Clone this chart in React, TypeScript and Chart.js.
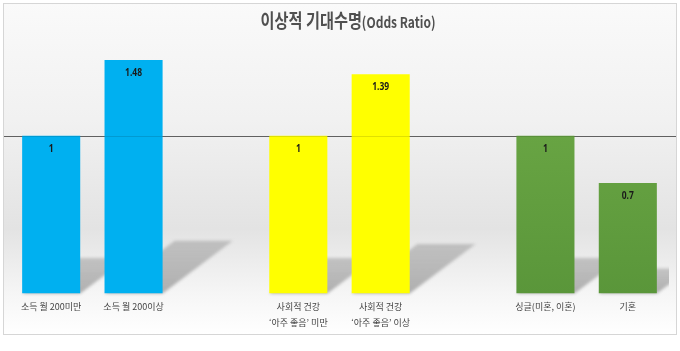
import React, { useEffect, useRef } from "react";
import { Chart, registerables } from "chart.js";

Chart.register(...registerables);

const titleMain = "이상적 기대수명";
const titleSub = "(Odds Ratio)";
const categories: (string | string[])[] = [
  ["소득 월 200미만"],
  ["소득 월 200이상"],
  "",
  ["사회적 건강", "‘아주 좋음’ 미만"],
  ["사회적 건강", "‘아주 좋음’ 이상"],
  "",
  ["싱글(미혼, 이혼)"],
  ["기혼"],
];
const oddsValues: (number | null)[] = [1, 1.48, null, 1, 1.39, null, 1, 0.7];
const valueLabels: string[] = ["1", "1.48", "", "1", "1.39", "", "1", "0.7"];
const barTop: string[] = ["#00b0f0", "#00b0f0", "", "#ffff00", "#ffff00", "", "#70ac48", "#70ac48"];
const barBottom: string[] = ["#00b0f0", "#00b0f0", "", "#ffff00", "#ffff00", "", "#5a963a", "#5a963a"];
const referenceValue = 1;

const backgroundPlugin = {
  id: "bgPanel",
  beforeDraw(chart: any) {
    const { ctx, width, height } = chart;
    ctx.save();
    ctx.fillStyle = "#ffffff";
    ctx.fillRect(0, 0, width, height);
    const g = ctx.createLinearGradient(0, 3, 0, 335);
    g.addColorStop(0, "#fafafa");
    g.addColorStop(0.35, "#f1f1f1");
    g.addColorStop(0.68, "#e3e3e3");
    g.addColorStop(0.88, "#f6f6f6");
    g.addColorStop(1, "#ffffff");
    ctx.fillStyle = g;
    ctx.fillRect(3.5, 3.5, 673, 331);
    ctx.strokeStyle = "#d6d6d6";
    ctx.lineWidth = 1;
    ctx.strokeRect(3.5, 3.5, 673, 331);
    // title
    ctx.fillStyle = "#505050";
    ctx.textBaseline = "alphabetic";
    const sx = 0.8;
    ctx.font = "bold 19px 'Noto Sans CJK KR'";
    const w1 = ctx.measureText(titleMain).width * sx;
    ctx.font = "bold 15px 'Noto Sans CJK KR'";
    const w2 = ctx.measureText(titleSub).width * sx;
    const start = 348 - (w1 + w2) / 2;
    ctx.save();
    ctx.translate(start, 28);
    ctx.scale(sx, 1);
    ctx.font = "bold 19px 'Noto Sans CJK KR'";
    ctx.fillText(titleMain, 0, 0);
    ctx.restore();
    ctx.save();
    ctx.translate(start + w1, 28);
    ctx.scale(sx, 1);
    ctx.font = "bold 15px 'Noto Sans CJK KR'";
    ctx.fillText(titleSub, 0, 0);
    ctx.restore();
    ctx.restore();
  },
};

const shadowPlugin = {
  id: "barShadow",
  beforeDatasetsDraw(chart: any) {
    const { ctx, chartArea } = chart;
    const meta = chart.getDatasetMeta(0);
    ctx.save();
    ctx.beginPath();
    ctx.rect(chartArea.left, 0, chartArea.right - chartArea.left, chart.height);
    ctx.clip();
    ctx.filter = "blur(1.5px)";
    meta.data.forEach((bar: any, i: number) => {
      if (oddsValues[i] == null) return;
      const { x, y, base, width } = bar.getProps(["x", "y", "base", "width"], true);
      const h = base - y;
      const dx = h * 0.3;
      const dy = h * 0.226;
      const l = x - width / 2;
      const r = x + width / 2;
      const g = ctx.createLinearGradient(0, base, 0, base - dy);
      g.addColorStop(0, "rgba(150,150,150,0.75)");
      g.addColorStop(1, "rgba(165,165,165,0.6)");
      ctx.fillStyle = g;
      ctx.beginPath();
      ctx.moveTo(l, base);
      ctx.lineTo(r, base);
      ctx.lineTo(r + dx, base - dy);
      ctx.lineTo(l + dx, base - dy);
      ctx.closePath();
      ctx.fill();
    });
    ctx.restore();
    const yPix = Math.round(chart.scales.y.getPixelForValue(referenceValue)) + 0.5;
    ctx.save();
    ctx.strokeStyle = "#6e6e6e";
    ctx.lineWidth = 1;
    ctx.beginPath();
    ctx.moveTo(4, yPix);
    ctx.lineTo(676, yPix);
    ctx.stroke();
    ctx.restore();
  },
  afterDatasetsDraw(chart: any) {
    const { ctx } = chart;
    const meta = chart.getDatasetMeta(0);
    const yPix = Math.round(chart.scales.y.getPixelForValue(referenceValue)) + 0.5;
    ctx.save();
    ctx.strokeStyle = "rgba(0,0,0,0.12)";
    ctx.beginPath();
    ctx.moveTo(4, yPix);
    ctx.lineTo(676, yPix);
    ctx.stroke();
    ctx.fillStyle = "#1a1a1a";
    ctx.textAlign = "center";
    ctx.textBaseline = "middle";
    meta.data.forEach((bar: any, i: number) => {
      if (oddsValues[i] == null) return;
      const { x, y } = bar.getProps(["x", "y"], true);
      ctx.save();
      ctx.translate(x, y + 13);
      ctx.scale(0.85, 1);
      ctx.font = "bold 10px 'Noto Sans'";
      ctx.fillText(valueLabels[i], 0, 0);
      ctx.restore();
    });
    ctx.restore();
  },
};

export default function App() {
  const ref = useRef<HTMLCanvasElement | null>(null);
  useEffect(() => {
    document.body.style.margin = "0";
    const canvas = ref.current;
    if (!canvas) return;
    const chart = new Chart(canvas, {
      type: "bar",
      data: {
        labels: categories,
        datasets: [
          {
            data: oddsValues,
            backgroundColor: (c: any) => {
              const i = c.dataIndex;
              const area = c.chart.chartArea;
              if (!area || barTop[i] === barBottom[i]) return barTop[i] || "transparent";
              const g = c.chart.ctx.createLinearGradient(0, area.top, 0, area.bottom);
              g.addColorStop(0, barTop[i]);
              g.addColorStop(1, barBottom[i]);
              return g;
            },
            barPercentage: 0.705,
            categoryPercentage: 1,
            borderWidth: 0,
          },
        ],
      },
      options: {
        responsive: false,
        animation: false,
        layout: { padding: { top: 41, left: 10, right: 11, bottom: 15 } },
        plugins: {
          legend: { display: false },
          title: { display: false },
          tooltip: { enabled: false },
        },
        scales: {
          x: {
            grid: { display: false, drawTicks: false, tickLength: 0 },
            border: { display: false },
            ticks: {
              color: "#444444",
              padding: 5,
              maxRotation: 0,
              autoSkip: false,
              font: { family: "'Noto Sans CJK KR'", size: 9, lineHeight: 1.8 },
            },
          },
          y: {
            display: false,
            min: 0,
            max: 1.6,
          },
        },
      },
      plugins: [backgroundPlugin, shadowPlugin],
    });
    return () => chart.destroy();
  }, []);
  return (
    <div style={{ position: "fixed", left: 0, top: 0, width: 680, height: 351 }}>
      <canvas ref={ref} width={680} height={351} />
    </div>
  );
}
